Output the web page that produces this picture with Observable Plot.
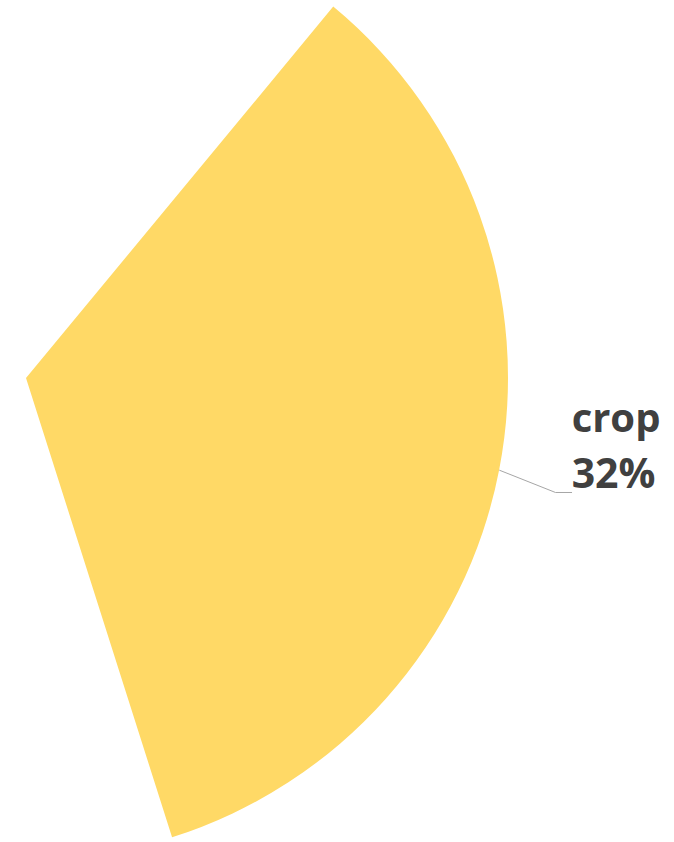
<!DOCTYPE html>
<html><head><meta charset="utf-8">
<script src="https://cdn.jsdelivr.net/npm/d3@7"></script>
<script src="https://cdn.jsdelivr.net/npm/@observablehq/plot@0.6"></script>
<style>html,body{margin:0;padding:0;background:#fff}</style>
</head><body><div id="chart"></div>
<script>
// Data
const categories = ["crop", "other"];
const sliceValues = [34.1, 65.9];          // angular share visible in the picture
const percentLabels = ["32%", ""];         // label text as printed
const sliceColors = ["#FFD966", "none"];
const shownCategories = ["crop"];

// Layout (radius units, pie centre at 0,0)
const startDeg = 39.6;
const labelX = 1.131, labelY1 = -0.085, labelY2 = -0.199;
const elbow = [1.0975, -0.2365];

const slices = categories.map((c, i) => ({category: c, value: sliceValues[i], pct: percentLabels[i], color: sliceColors[i]}));
const arcs = d3.pie().sort(null).value(d => d.value)
  .startAngle(startDeg * Math.PI / 180)
  .endAngle(startDeg * Math.PI / 180 + 2 * Math.PI)(slices);
const shown = arcs.filter(a => shownCategories.includes(a.data.category));

const leader = shown.flatMap(a => {
  const m = (a.startAngle + a.endAngle) / 2;
  return [
    {x: Math.sin(m), y: Math.cos(m)},
    {x: elbow[0], y: elbow[1]},
    {x: labelX, y: elbow[1]}
  ];
});

const pieMark = (index, scales) => {
  const sx = scales.x, sy = scales.y;
  const cx = sx(0), cy = sy(0), r = sx(1) - sx(0);
  const arcGen = d3.arc().innerRadius(0).outerRadius(r);
  const g = d3.create("svg:g").attr("transform", `translate(${cx},${cy})`);
  g.selectAll("path").data(shown).join("path")
    .attr("d", arcGen)
    .attr("fill", d => d.data.color)
    .attr("stroke", "none");
  return g.node();
};

const chart = Plot.plot({
  width: 674, height: 842,
  margin: 0,
  x: {axis: null, domain: [-26/482, 648/482]},
  y: {axis: null, domain: [-464/482, 378/482]},
  style: {background: "#fff", fontFamily: "'Open Sans', sans-serif"},
  marks: [
    pieMark,
    Plot.line(leader, {x: "x", y: "y", stroke: "#A6A6A6", strokeWidth: 1}),
    Plot.text(shown, {x: () => labelX, y: () => labelY1, text: d => d.data.category,
      textAnchor: "start", fontSize: 40, fontWeight: "bold", fill: "#404040", fontFamily: "'Open Sans', sans-serif"}),
    Plot.text(shown, {x: () => labelX, y: () => labelY2, text: d => d.data.pct,
      textAnchor: "start", fontSize: 41, fontWeight: "bold", fill: "#404040", fontFamily: "'Open Sans', sans-serif"})
  ]
});
document.getElementById("chart").appendChild(chart);
</script>
</body></html>
